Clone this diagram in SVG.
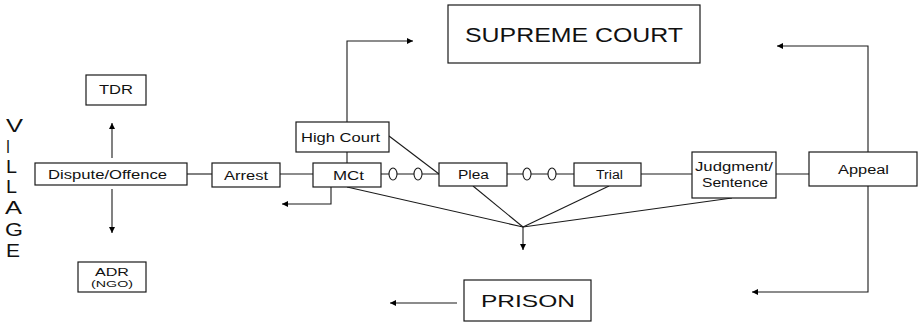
<svg xmlns="http://www.w3.org/2000/svg" width="918" height="323" viewBox="0 0 918 323">
  <defs>
    <marker id="arrow" viewBox="0 0 10 10" refX="10" refY="5" markerWidth="7" markerHeight="6" markerUnits="userSpaceOnUse" orient="auto">
      <path d="M0,0 L10,5 L0,10 Z" fill="#000"/>
    </marker>
    <style>
      .box { fill: #fff; stroke: #1a1a1a; stroke-width: 1.2; }
      .ln { fill: none; stroke: #1a1a1a; stroke-width: 1.1; }
      .arr { fill: none; stroke: #1a1a1a; stroke-width: 1.1; marker-end: url(#arrow); }
      .oval { fill: #fff; stroke: #1a1a1a; stroke-width: 1.1; }
      text { font-family: "Liberation Sans", Arial, sans-serif; fill: #111; }
      .lbl { font-size: 12px; }
      .big { font-size: 20px; }
      .vil { font-size: 19px; }
    </style>
  </defs>

  <!-- vertical side label -->
  <g id="village">
    <text class="vil" x="6" y="132" textLength="17" lengthAdjust="spacingAndGlyphs">V</text>
    <text class="vil" x="6" y="153" textLength="4" lengthAdjust="spacingAndGlyphs">I</text>
    <text class="vil" x="6" y="173" textLength="11" lengthAdjust="spacingAndGlyphs">L</text>
    <text class="vil" x="6" y="193" textLength="11" lengthAdjust="spacingAndGlyphs">L</text>
    <text class="vil" x="5" y="214" textLength="17" lengthAdjust="spacingAndGlyphs">A</text>
    <text class="vil" x="5" y="236" textLength="18" lengthAdjust="spacingAndGlyphs">G</text>
    <text class="vil" x="6" y="257" textLength="14" lengthAdjust="spacingAndGlyphs">E</text>
  </g>

  <!-- connectors -->
  <g id="connectors">
    <!-- dispute to TDR / ADR -->
    <line class="arr" x1="112" y1="158" x2="112" y2="123"/>
    <line class="arr" x1="112" y1="189" x2="112" y2="233"/>
    <!-- main chain -->
    <line class="ln" x1="187" y1="174" x2="212" y2="174"/>
    <line class="ln" x1="280" y1="174" x2="313" y2="174"/>
    <line class="ln" x1="381" y1="174" x2="439" y2="174"/>
    <line class="ln" x1="507" y1="174" x2="574" y2="174"/>
    <line class="ln" x1="641" y1="174" x2="692" y2="174"/>
    <line class="ln" x1="776" y1="174" x2="809" y2="174"/>
    <!-- adjournment ovals -->
    <ellipse class="oval" cx="393" cy="174" rx="4" ry="6"/>
    <ellipse class="oval" cx="418" cy="174" rx="4" ry="6"/>
    <ellipse class="oval" cx="527" cy="174" rx="4" ry="6"/>
    <ellipse class="oval" cx="552" cy="174" rx="4" ry="6"/>
    <!-- high court links -->
    <polyline class="arr" points="347,122 347,41 413,41"/>
    <line class="ln" x1="347" y1="152" x2="347" y2="163"/>
    <line class="ln" x1="389" y1="136" x2="439" y2="174"/>
    <!-- release from magistrates court -->
    <polyline class="arr" points="331,187 331,204 282,204"/>
    <!-- convergence towards prison -->
    <line class="ln" x1="347" y1="187" x2="523" y2="227"/>
    <line class="ln" x1="473" y1="186" x2="523" y2="227"/>
    <line class="ln" x1="609" y1="186" x2="523" y2="227"/>
    <line class="ln" x1="732" y1="198" x2="523" y2="227"/>
    <line class="arr" x1="523" y1="227" x2="523" y2="250"/>
    <!-- appeal outcomes -->
    <polyline class="arr" points="868,152 868,46 777,46"/>
    <polyline class="arr" points="868,186 868,292 752,292"/>
    <!-- release from prison -->
    <line class="arr" x1="457" y1="303" x2="390" y2="303"/>
  </g>

  <g id="tdr">
    <rect class="box" x="86" y="75" width="60" height="30"/>
    <text x="99" y="94" font-size="13" textLength="34" lengthAdjust="spacingAndGlyphs">TDR</text>
  </g>
  <g id="adr">
    <rect class="box" x="78" y="262" width="68" height="30"/>
    <text x="95" y="276" font-size="11" textLength="34" lengthAdjust="spacingAndGlyphs">ADR</text>
    <text x="91" y="287" font-size="9" textLength="42" lengthAdjust="spacingAndGlyphs">(NGO)</text>
  </g>
  <g id="dispute">
    <rect class="box" x="35" y="163" width="152" height="22"/>
    <text class="lbl" x="48" y="179" textLength="119" lengthAdjust="spacingAndGlyphs">Dispute/Offence</text>
  </g>
  <g id="arrest">
    <rect class="box" x="212" y="163" width="68" height="24"/>
    <text class="lbl" x="224" y="180" textLength="44" lengthAdjust="spacingAndGlyphs">Arrest</text>
  </g>
  <g id="mct">
    <rect class="box" x="313" y="163" width="68" height="24"/>
    <text class="lbl" x="333" y="180" textLength="31" lengthAdjust="spacingAndGlyphs">MCt</text>
  </g>
  <g id="high-court">
    <rect class="box" x="296" y="122" width="93" height="30"/>
    <text class="lbl" x="301" y="142" textLength="79" lengthAdjust="spacingAndGlyphs">High Court</text>
  </g>
  <g id="plea">
    <rect class="box" x="439" y="163" width="68" height="23"/>
    <text class="lbl" x="458" y="179" textLength="31" lengthAdjust="spacingAndGlyphs">Plea</text>
  </g>
  <g id="trial">
    <rect class="box" x="574" y="163" width="67" height="23"/>
    <text class="lbl" x="596" y="179" textLength="27" lengthAdjust="spacingAndGlyphs">Trial</text>
  </g>
  <g id="judgment">
    <rect class="box" x="692" y="152" width="84" height="46"/>
    <text class="lbl" x="695" y="171" textLength="78" lengthAdjust="spacingAndGlyphs">Judgment/</text>
    <text class="lbl" x="702" y="187" textLength="66" lengthAdjust="spacingAndGlyphs">Sentence</text>
  </g>
  <g id="appeal">
    <rect class="box" x="809" y="152" width="108" height="34"/>
    <text class="lbl" x="838" y="174" textLength="51" lengthAdjust="spacingAndGlyphs">Appeal</text>
  </g>
  <g id="supreme-court">
    <rect class="box" x="448" y="5" width="252" height="58"/>
    <text class="big" x="465" y="42" textLength="218" lengthAdjust="spacingAndGlyphs">SUPREME COURT</text>
  </g>
  <g id="prison">
    <rect class="box" x="464" y="280" width="127" height="41"/>
    <text x="481" y="307" font-size="17" textLength="94" lengthAdjust="spacingAndGlyphs">PRISON</text>
  </g>
</svg>
